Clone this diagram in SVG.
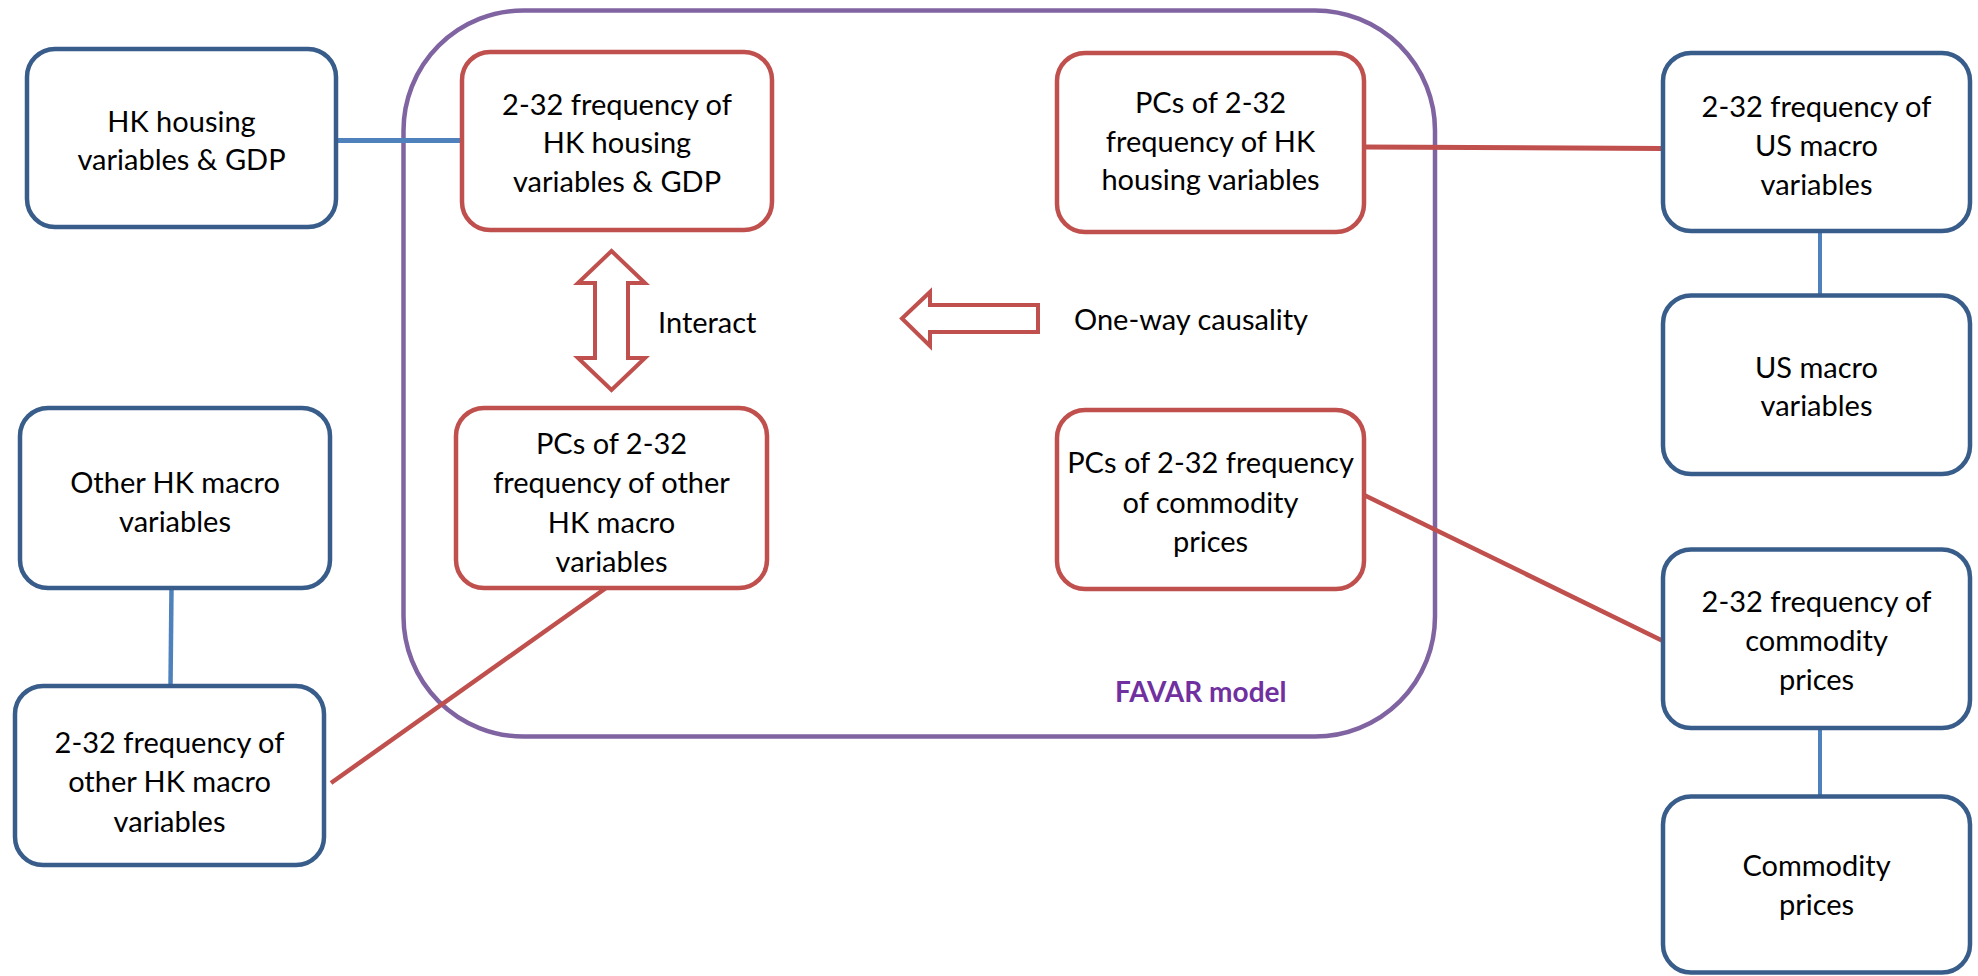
<svg xmlns="http://www.w3.org/2000/svg" width="1978" height="976" viewBox="0 0 1978 976">
<style>
.bg{fill:#ffffff}
.bb{fill:#ffffff;stroke:#385D8A;stroke-width:4.5}
.rb{fill:#ffffff;stroke:#C0504D;stroke-width:4.5}
.pc{fill:none;stroke:#8064A2;stroke-width:4.5}
.cb{stroke:#4F81BD;stroke-width:5;fill:none}
.cr{stroke:#C0504D;stroke-width:5;fill:none}
.ar{fill:#ffffff;stroke:#C0504D;stroke-width:4;stroke-linejoin:miter}
text{font-family:Lato,"Liberation Sans",sans-serif;font-size:29px;fill:#000000}
.t{text-anchor:middle}
.fav{font-weight:bold;fill:#7030A0;font-size:28px}
</style>
<rect class="bg" x="0" y="0" width="1978" height="976"/>
<g id="favar-container">
<rect class="pc" x="403.5" y="10.5" width="1031.5" height="726" rx="120" ry="120"/>
<text class="fav" x="1115" y="702">FAVAR model</text>
</g>
<g id="connectors">
<line class="cb" x1="336" y1="140.5" x2="462" y2="140.5"/>
<line class="cr" x1="1364" y1="147" x2="1663" y2="148.5"/>
<line class="cb" x1="1820" y1="231" x2="1820" y2="295" style="stroke-width:4"/>
<line class="cb" x1="171.5" y1="588" x2="170.5" y2="686" style="stroke-width:4.5"/>
<line class="cr" x1="606" y1="588" x2="331" y2="783" style="stroke-width:4.5"/>
<line class="cr" x1="1364" y1="495" x2="1663" y2="641" style="stroke-width:4.5"/>
<line class="cb" x1="1820" y1="728" x2="1820" y2="796.5" style="stroke-width:4"/>
</g>
<g id="hk-housing">
<rect class="bb" x="27" y="49" width="309" height="178" rx="28"/>
<text class="t" x="181.5" y="132">HK housing</text>
<text class="t" x="181.5" y="170">variables &amp; GDP</text>
</g>
<g id="freq-hk-housing">
<rect class="rb" x="462" y="52" width="310" height="178" rx="28"/>
<text class="t" x="617" y="115">2-32 frequency of</text>
<text class="t" x="617" y="153">HK housing</text>
<text class="t" x="617" y="192">variables &amp; GDP</text>
</g>
<g id="pcs-hk-housing">
<rect class="rb" x="1057" y="53" width="307" height="179" rx="28"/>
<text class="t" x="1210.5" y="113">PCs of 2-32</text>
<text class="t" x="1210.5" y="152">frequency of HK</text>
<text class="t" x="1210.5" y="190">housing variables</text>
</g>
<g id="freq-us-macro">
<rect class="bb" x="1663" y="53" width="307" height="178" rx="28"/>
<text class="t" x="1816.5" y="117">2-32 frequency of</text>
<text class="t" x="1816.5" y="156">US macro</text>
<text class="t" x="1816.5" y="195">variables</text>
</g>
<g id="us-macro">
<rect class="bb" x="1663" y="295.5" width="307" height="178.5" rx="28"/>
<text class="t" x="1816.5" y="378">US macro</text>
<text class="t" x="1816.5" y="416">variables</text>
</g>
<g id="other-hk-macro">
<rect class="bb" x="20" y="408" width="310" height="180" rx="28"/>
<text class="t" x="175" y="493">Other HK macro</text>
<text class="t" x="175" y="532">variables</text>
</g>
<g id="freq-other-hk-macro">
<rect class="bb" x="15" y="686" width="309" height="179" rx="28"/>
<text class="t" x="169.5" y="752.5">2-32 frequency of</text>
<text class="t" x="169.5" y="792">other HK macro</text>
<text class="t" x="169.5" y="831.5">variables</text>
</g>
<g id="pcs-other-hk-macro">
<rect class="rb" x="456" y="408" width="311" height="180" rx="28"/>
<text class="t" x="611.5" y="454">PCs of 2-32</text>
<text class="t" x="611.5" y="493">frequency of other</text>
<text class="t" x="611.5" y="533">HK macro</text>
<text class="t" x="611.5" y="572">variables</text>
</g>
<g id="pcs-commodity">
<rect class="rb" x="1057" y="410" width="307" height="179" rx="28"/>
<text class="t" x="1210.5" y="473">PCs of 2-32 frequency</text>
<text class="t" x="1210.5" y="513">of commodity</text>
<text class="t" x="1210.5" y="552">prices</text>
</g>
<g id="freq-commodity">
<rect class="bb" x="1663" y="549.5" width="307" height="178.5" rx="28"/>
<text class="t" x="1816.5" y="612">2-32 frequency of</text>
<text class="t" x="1816.5" y="651">commodity</text>
<text class="t" x="1816.5" y="690">prices</text>
</g>
<g id="commodity-prices">
<rect class="bb" x="1663" y="796.5" width="307" height="176" rx="28"/>
<text class="t" x="1816.5" y="876">Commodity</text>
<text class="t" x="1816.5" y="915">prices</text>
</g>
<g id="interact">
<polygon class="ar" points="611.5,251 645,283 628,283 628,358 645,358 611.5,390 578,358 595,358 595,283 578,283"/>
<text x="658" y="333">Interact</text>
</g>
<g id="one-way-causality">
<polygon class="ar" points="902,318.5 930,292 930,305 1038,305 1038,332 930,332 930,346"/>
<text x="1074" y="330">One-way causality</text>
</g>
</svg>
